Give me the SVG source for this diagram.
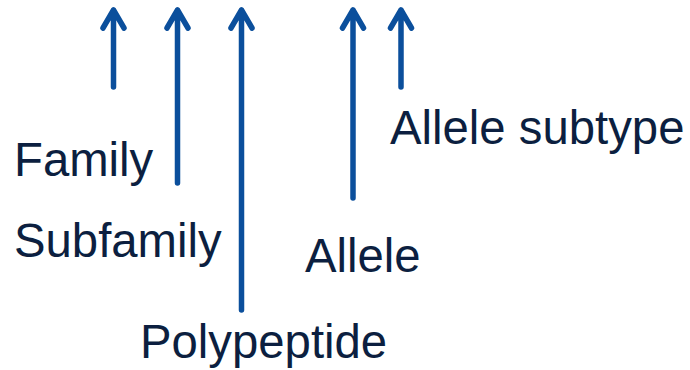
<svg xmlns="http://www.w3.org/2000/svg" width="690" height="370" viewBox="0 0 690 370">
<style>
.lbl{font-family:"Liberation Sans",Arial,sans-serif;font-size:47.3px;fill:#0c1f40}
.arr{stroke:#0b4f9c;stroke-width:5.5;fill:none;stroke-linecap:round;stroke-linejoin:round}
</style>
<rect width="690" height="370" fill="#ffffff"/>
<g id="connectors">
<path class="arr" d="M113.5 87V10M103 28L113.5 10L124 28"/>
<path class="arr" d="M177.5 183V10M167 28L177.5 10L188 28"/>
<path class="arr" d="M241.5 310V10M231 28L241.5 10L252 28"/>
<path class="arr" d="M353 198V10M342.5 28L353 10L363.5 28"/>
<path class="arr" d="M401 87V10M390.5 28L401 10L411.5 28"/>
</g>
<g id="family"><text class="lbl" x="14" y="176">Family</text></g>
<g id="subfamily"><text class="lbl" x="14" y="257">Subfamily</text></g>
<g id="polypeptide"><text class="lbl" x="140" y="358">Polypeptide</text></g>
<g id="allele"><text class="lbl" x="305" y="272">Allele</text></g>
<g id="allele-subtype"><text class="lbl" x="390" y="144">Allele subtype</text></g>
</svg>
